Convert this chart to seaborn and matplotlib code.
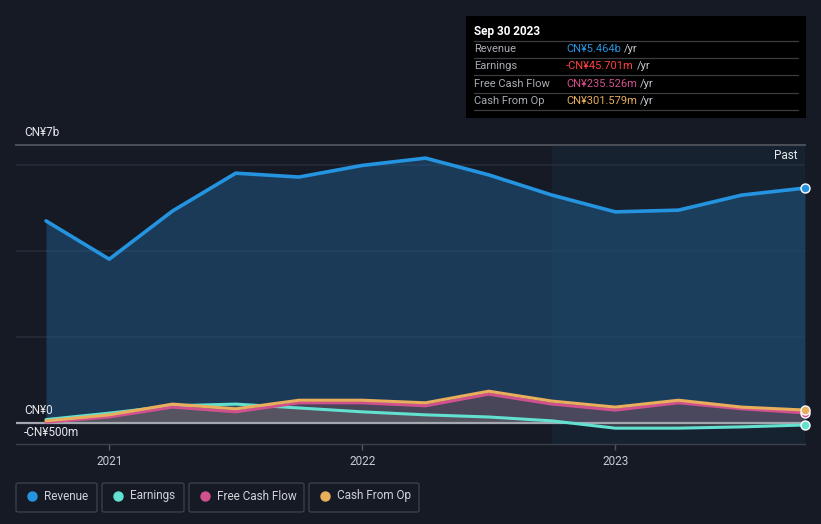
import numpy as np
import pandas as pd
import matplotlib
matplotlib.use("Agg")
import matplotlib.pyplot as plt
import seaborn as sns
from matplotlib.patches import Rectangle, FancyBboxPatch
from matplotlib.lines import Line2D

# ---------------- data (CN¥ billions) ----------------
quarters = [2020.75, 2021.0, 2021.25, 2021.5, 2021.75, 2022.0, 2022.25,
            2022.5, 2022.75, 2023.0, 2023.25, 2023.5, 2023.75]
revenue = [4.70, 3.81, 4.93, 5.81, 5.72, 5.99, 6.16, 5.77, 5.30, 4.91, 4.95, 5.30, 5.464]
earnings = [0.08, 0.23, 0.40, 0.44, 0.35, 0.26, 0.19, 0.14, 0.05, -0.12, -0.12, -0.09, -0.0457]
free_cash_flow = [0.02, 0.14, 0.37, 0.26, 0.47, 0.47, 0.40, 0.67, 0.44, 0.30, 0.47, 0.33, 0.2355]
cash_from_op = [0.05, 0.19, 0.44, 0.33, 0.53, 0.53, 0.47, 0.74, 0.51, 0.37, 0.53, 0.37, 0.3016]

year_ticks = [2021, 2022, 2023]
year_labels = ["2021", "2022", "2023"]
past_start = 2022.75

series_names = ["Revenue", "Earnings", "Free Cash Flow", "Cash From Op"]
tooltip_title = "Sep 30 2023"
tooltip_values = ["CN¥5.464b", "-CN¥45.701m", "CN¥235.526m", "CN¥301.579m"]

# ---------------- style ----------------
BG = "#151a24"
C_REV = "#2494e0"
C_EARN = "#62e0d0"
C_FCF = "#d1508e"
C_CFO = "#e8ae5c"
C_NEG = "#ff4040"

sns.set_theme(style="dark")
plt.rcParams["font.family"] = ["Roboto", "DejaVu Sans"]

W, H = 821, 524
fig = plt.figure(figsize=(W / 100, H / 100), dpi=100, facecolor=BG)


def fx(x):
    return x / W


def fy(y):
    return 1 - y / H


ax = fig.add_axes([fx(16), fy(444), 789 / W, 299 / H])
ax.set_facecolor(BG)
x0 = 2023.75 - 789 / 253
ax.set_xlim(x0, 2023.75)
ax.set_ylim(-0.488, 6.465)
ax.grid(False)

# past region shading
ax.axvspan(past_start, 2023.75, color="#1a2a3d", alpha=0.55, zorder=0, lw=0)

# gridlines
for g in [2, 4, 6]:
    ax.axhline(g, color="#262d38", lw=1.2, zorder=0.5)

df = pd.DataFrame({"t": quarters, "Revenue": revenue, "Earnings": earnings,
                   "Free Cash Flow": free_cash_flow, "Cash From Op": cash_from_op})

# fills
ax.fill_between(df["t"], df["Revenue"], 0, color="#1f5a8a", alpha=0.5, lw=0, zorder=1)
ax.fill_between(df["t"], df["Cash From Op"], 0, color="#8a6a50", alpha=0.18, lw=0, zorder=1.2)
ax.fill_between(df["t"], df["Free Cash Flow"], 0, color="#7a5060", alpha=0.35, lw=0, zorder=1.3)
ax.fill_between(df["t"], df["Earnings"], 0, color="#707070", alpha=0.35, lw=0, zorder=1.4)

# zero line
ax.axhline(0, color="#a4a8b0", lw=1.6, zorder=2)

# lines
sns.lineplot(data=df, x="t", y="Earnings", color=C_EARN, lw=2.2, ax=ax, zorder=3)
sns.lineplot(data=df, x="t", y="Free Cash Flow", color=C_FCF, lw=2.2, ax=ax, zorder=3.1)
sns.lineplot(data=df, x="t", y="Cash From Op", color=C_CFO, lw=2.2, ax=ax, zorder=3.2)
sns.lineplot(data=df, x="t", y="Revenue", color=C_REV, lw=2.6, ax=ax, zorder=4)

# end markers
for col, c in [("Earnings", C_EARN), ("Free Cash Flow", C_FCF),
               ("Cash From Op", C_CFO), ("Revenue", C_REV)]:
    ax.scatter([df["t"].iloc[-1]], [df[col].iloc[-1]], s=42, color=c,
               edgecolor="white", linewidth=1.0, zorder=6, clip_on=False)

ax.set_xlabel("")
ax.set_ylabel("")
ax.set_yticks([])
ax.set_xticks(year_ticks)
ax.set_xticklabels(year_labels)
ax.tick_params(axis="x", colors="#50555e", length=4, width=1, pad=4,
               labelcolor="#c8ccd2", labelsize=8.5, direction="out", bottom=True)
for s in ["left", "right"]:
    ax.spines[s].set_visible(False)
ax.spines["top"].set_color("#4a4f58")
ax.spines["top"].set_linewidth(1.4)
ax.spines["bottom"].set_color("#3a3f48")
ax.spines["bottom"].set_linewidth(1.0)

# y labels
for txt, y in [("CN¥7b", 132), ("CN¥0", 411), ("-CN¥500m", 432)]:
    fig.text(fx(24), fy(y), txt, color="#e6e8ec", fontsize=8.5, va="center", ha="left")

fig.text(fx(797), fy(156), "Past", color="#e6e8ec", fontsize=8.5, va="center", ha="right")

# tooltip box
fig.add_artist(Rectangle((fx(466), fy(118)), 340 / W, 102 / H, transform=fig.transFigure,
                         facecolor="#000000", edgecolor="none", zorder=10))
fig.text(fx(474), fy(31), tooltip_title, color="white", fontsize=8.5, fontweight="bold",
         va="center", ha="left", zorder=11)
row_y = [49, 66, 84, 101]
val_colors = [C_REV, C_NEG, C_FCF, C_CFO]
for sep in [41, 58, 75, 93, 110]:
    fig.add_artist(Line2D([fx(474), fx(798)], [fy(sep), fy(sep)], transform=fig.transFigure,
                          color="#3a3d42", lw=0.9, zorder=11))
for name, val, c, y in zip(series_names, tooltip_values, val_colors, row_y):
    fig.text(fx(474), fy(y), name, color="#a9adb3", fontsize=8, va="center", ha="left", zorder=12)
    t = fig.text(fx(566), fy(y), val, color=c, fontsize=8, va="center", ha="left", zorder=12)
    fig.canvas.draw()
    bb = t.get_window_extent()
    fig.text((bb.x1 + 3) / W, fy(y), "/yr", color="#c8ccd2", fontsize=8, va="center",
             ha="left", zorder=12)

# legend boxes
legend_boxes = [(16, 97), (102, 184), (189, 304), (309, 419)]
leg_colors = [C_REV, C_EARN, C_FCF, C_CFO]
for name, (l, r), c in zip(series_names, legend_boxes, leg_colors):
    fig.add_artist(FancyBboxPatch((fx(l), fy(512)), (r - l) / W, 29 / H,
                                  boxstyle="round,pad=0,rounding_size=0.003",
                                  transform=fig.transFigure, facecolor=BG,
                                  edgecolor="#3a3f4a", lw=1.0))
    fig.add_artist(Line2D([fx(l + 16)], [fy(496)], marker="o", markersize=6.5,
                          color=c, transform=fig.transFigure, lw=0))
    fig.text(fx(l + 28), fy(496), name, color="#d0d3d8", fontsize=8.5, va="center", ha="left")

fig.savefig("out.png", dpi=100, facecolor=BG)
